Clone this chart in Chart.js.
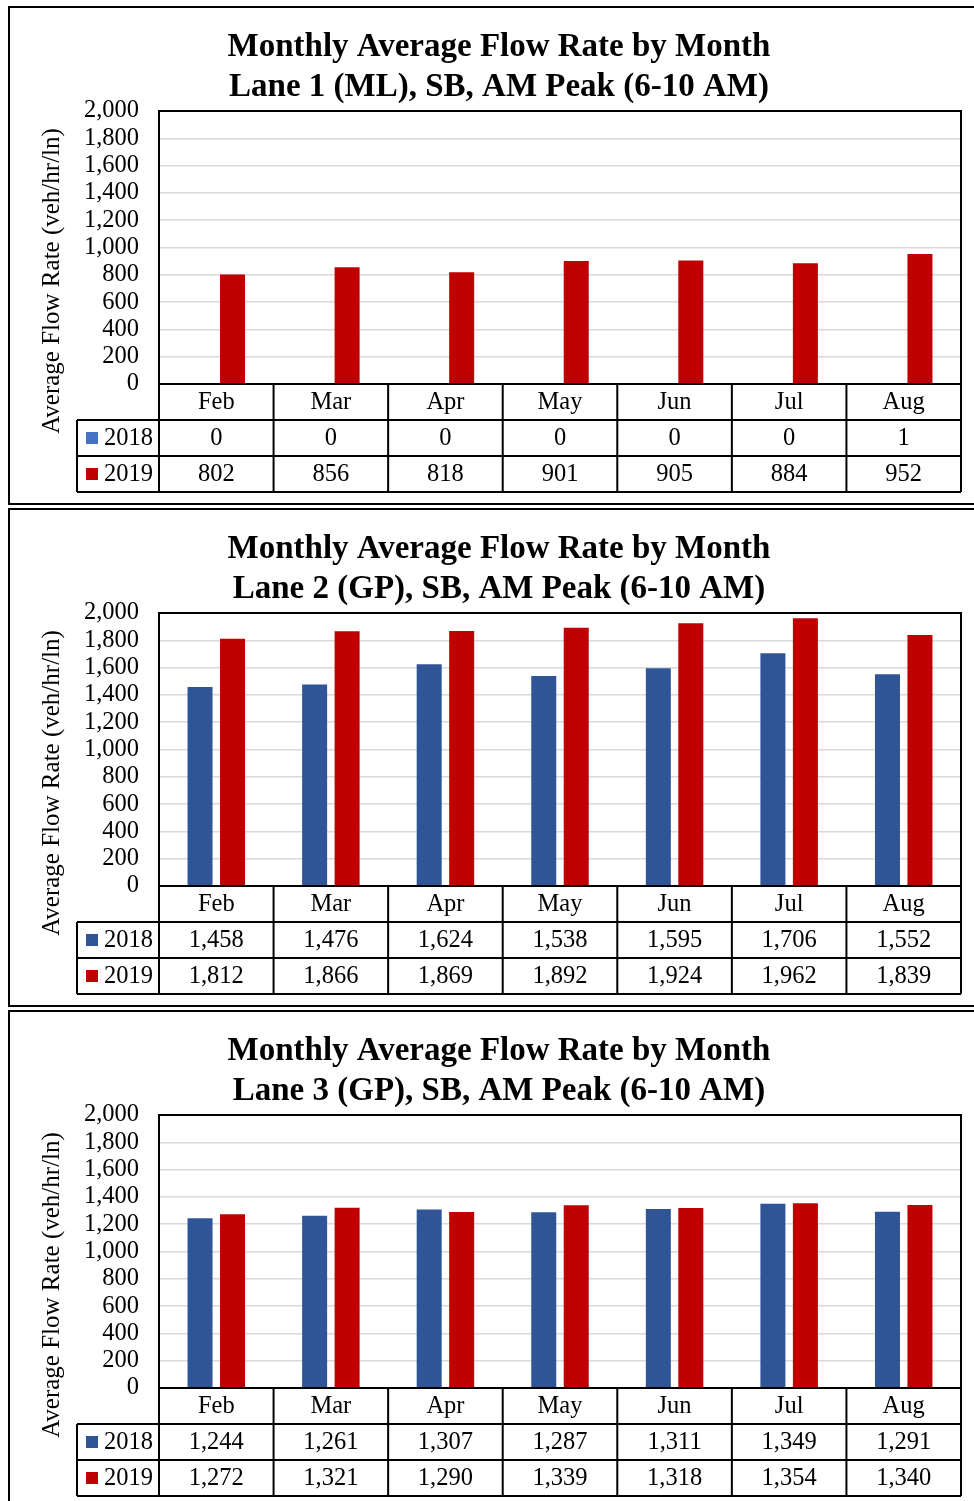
<!DOCTYPE html>
<html>
<head>
<meta charset="utf-8">
<title>Monthly Average Flow Rate by Month</title>
<script src="https://cdn.jsdelivr.net/npm/chart.js@4.4.1/dist/chart.umd.min.js"></script>
<style>
  html, body { margin: 0; padding: 0; background: #fff; width: 974px; height: 1501px; overflow: hidden; }
  .panel { position: absolute; left: 8px; width: 990px; height: 495px; border: 2px solid #000; background: #fff; }
  .panel canvas { display: block; }
</style>
</head>
<body>
<div class="panel" style="top:6px"><canvas id="lane1" width="970" height="495"></canvas></div>
<div class="panel" style="top:508px"><canvas id="lane2" width="970" height="495"></canvas></div>
<div class="panel" style="top:1010px"><canvas id="lane3" width="970" height="495"></canvas></div>
<script>
// Categories and series
const months = ['Feb', 'Mar', 'Apr', 'May', 'Jun', 'Jul', 'Aug'];
const years = ['2018', '2019'];

const lane1Flow2018 = [0, 0, 0, 0, 0, 0, 1];
const lane1Flow2019 = [802, 856, 818, 901, 905, 884, 952];

const lane2Flow2018 = [1458, 1476, 1624, 1538, 1595, 1706, 1552];
const lane2Flow2019 = [1812, 1866, 1869, 1892, 1924, 1962, 1839];

const lane3Flow2018 = [1244, 1261, 1307, 1287, 1311, 1349, 1291];
const lane3Flow2019 = [1272, 1321, 1290, 1339, 1318, 1354, 1340];

// Axis range and labels
const yMin = 0;
const yMax = 2000;
const yStep = 200;
const chartTitle = 'Monthly Average Flow Rate by Month';
const laneTitles = [
  'Lane 1 (ML), SB, AM Peak (6-10 AM)',
  'Lane 2 (GP), SB, AM Peak (6-10 AM)',
  'Lane 3 (GP), SB, AM Peak (6-10 AM)'
];
const yAxisTitle = 'Average Flow Rate (veh/hr/ln)';

const SERIF = "'Liberation Serif', 'Times New Roman', serif";
const RED = '#C00000';
const fmt = v => Number(v).toLocaleString('en-US');

// Draws the heading, rotated axis title, plot frame and the data table under the plot
const flowTablePlugin = {
  id: 'flowTable',
  afterDraw(chart, args, opts) {
    const { ctx, chartArea: { left, right, top, bottom } } = chart;
    const xs = chart.scales.x;
    const rowH = 36;
    const tableLeft = left - 82;
    ctx.save();

    // heading
    ctx.fillStyle = '#000';
    ctx.font = 'bold 33px ' + SERIF;
    ctx.textAlign = 'center';
    ctx.textBaseline = 'middle';
    ctx.fillText(chartTitle, 489, 39);
    ctx.fillText(opts.subtitle, 489, 79);

    // y-axis title
    ctx.save();
    ctx.translate(42, 273);
    ctx.rotate(-Math.PI / 2);
    ctx.font = '25px ' + SERIF;
    ctx.fillText(yAxisTitle, 0, 0);
    ctx.restore();

    // frame and table grid
    ctx.strokeStyle = '#000';
    ctx.lineWidth = 2;
    ctx.beginPath();
    ctx.moveTo(left, bottom + 3 * rowH);
    ctx.lineTo(left, top);
    ctx.lineTo(right, top);
    ctx.lineTo(right, bottom + 3 * rowH);
    ctx.moveTo(left, bottom);
    ctx.lineTo(right, bottom);
    for (let r = 1; r <= 3; r++) {
      ctx.moveTo(tableLeft, bottom + r * rowH);
      ctx.lineTo(right, bottom + r * rowH);
    }
    ctx.moveTo(tableLeft, bottom + rowH);
    ctx.lineTo(tableLeft, bottom + 3 * rowH);
    for (let i = 1; i < months.length; i++) {
      const bx = (xs.getPixelForValue(i - 1) + xs.getPixelForValue(i)) / 2;
      ctx.moveTo(bx, bottom);
      ctx.lineTo(bx, bottom + 3 * rowH);
    }
    ctx.stroke();

    // table text
    ctx.font = '24.5px ' + SERIF;
    ctx.textAlign = 'center';
    months.forEach((m, i) => {
      const cx = xs.getPixelForValue(i);
      ctx.fillText(m, cx, bottom + rowH / 2 + 1);
      chart.data.datasets.forEach((ds, d) => {
        ctx.fillText(fmt(ds.data[i]), cx, bottom + (d + 1.5) * rowH + 1);
      });
    });

    // series keys
    chart.data.datasets.forEach((ds, d) => {
      const cy = bottom + (d + 1.5) * rowH;
      ctx.fillStyle = opts.keyColors[d];
      ctx.fillRect(tableLeft + 9, cy - 6, 12, 12);
      ctx.fillStyle = '#000';
      ctx.textAlign = 'left';
      ctx.fillText(ds.label, tableLeft + 27, cy + 1);
    });
    ctx.restore();
  }
};

function makeLaneChart(canvasId, subtitle, flow2018, flow2019, blue) {
  return new Chart(document.getElementById(canvasId), {
    type: 'bar',
    data: {
      labels: months,
      datasets: [
        { label: years[0], data: flow2018, backgroundColor: blue },
        { label: years[1], data: flow2019, backgroundColor: RED }
      ]
    },
    plugins: [flowTablePlugin],
    options: {
      responsive: false,
      animation: false,
      events: [],
      layout: { padding: { top: 103, right: 19, bottom: 119, left: 0 } },
      datasets: { bar: { categoryPercentage: 0.567, barPercentage: 0.77 } },
      plugins: {
        legend: { display: false },
        title: { display: false },
        tooltip: { enabled: false },
        flowTable: { subtitle: subtitle, keyColors: [blue, RED] }
      },
      scales: {
        x: { display: false },
        y: {
          min: yMin,
          max: yMax,
          border: { display: false },
          grid: { color: '#d9d9d9', lineWidth: 1.5, drawTicks: false },
          ticks: {
            stepSize: yStep,
            autoSkip: false,
            padding: 20,
            color: '#000',
            font: { family: SERIF, size: 24.5, lineHeight: 1 },
            callback: v => fmt(v)
          },
          afterFit(scale) { scale.width = 149; }
        }
      }
    }
  });
}

makeLaneChart('lane1', laneTitles[0], lane1Flow2018, lane1Flow2019, '#4472C4');
makeLaneChart('lane2', laneTitles[1], lane2Flow2018, lane2Flow2019, '#2F5597');
makeLaneChart('lane3', laneTitles[2], lane3Flow2018, lane3Flow2019, '#2F5597');
</script>
</body>
</html>
